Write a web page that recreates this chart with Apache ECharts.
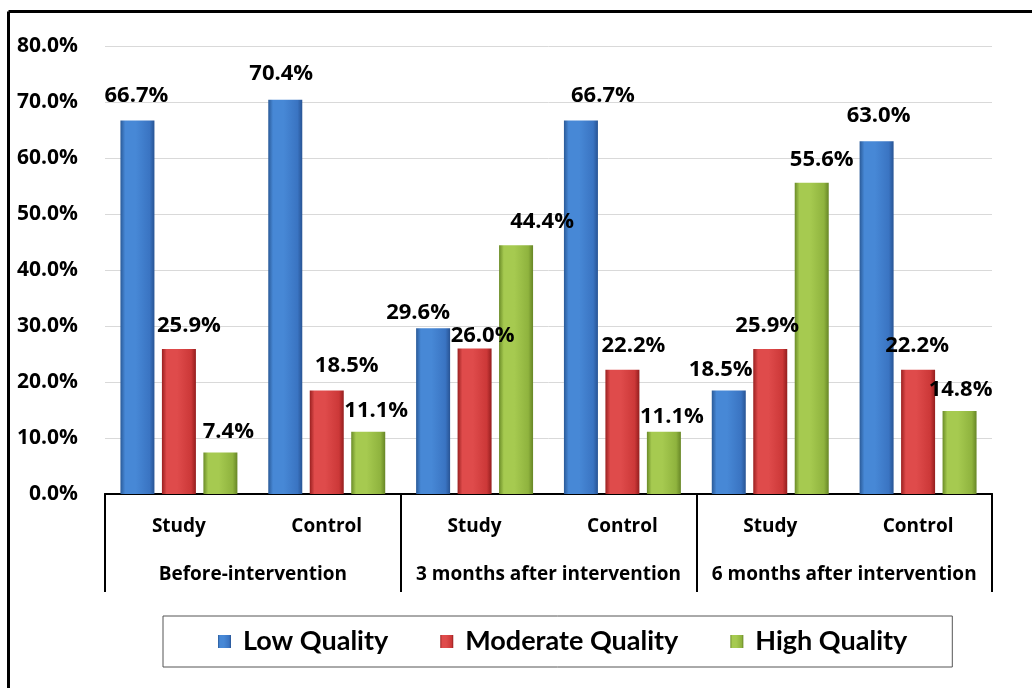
<!DOCTYPE html>
<html>
<head>
<meta charset="utf-8">
<script src="https://cdn.jsdelivr.net/npm/echarts@6/dist/echarts.min.js"></script>
<style>
  html, body { margin: 0; padding: 0; background: #fff; }
  #chart { width: 1032px; height: 688px; }
</style>
</head>
<body>
<div id="chart"></div>
<script>
// ---- data ----
const groups = ['Before-intervention', '3 months after intervention', '6 months after intervention'];
const categories = ['Study', 'Control', 'Study', 'Control', 'Study', 'Control'];
const seriesNames = ['Low Quality', 'Moderate Quality', 'High Quality'];
const lowQuality = [66.7, 70.4, 29.6, 66.7, 18.5, 63.0];
const moderateQuality = [25.9, 18.5, 26.0, 22.2, 25.9, 22.2];
const highQuality = [7.4, 11.1, 44.4, 11.1, 55.6, 14.8];
const yMin = 0, yMax = 80, yStep = 10;

// ---- look ----
const TEXT_FONT = '"Open Sans", "DejaVu Sans", sans-serif';
function barGradient(edge, light, mid, edge2) {
  return {
    type: 'linear', x: 0, y: 0, x2: 1, y2: 0,
    colorStops: [
      { offset: 0, color: edge },
      { offset: 0.14, color: light },
      { offset: 0.45, color: light },
      { offset: 0.86, color: mid },
      { offset: 1, color: edge2 }
    ]
  };
}
const fills = [
  barGradient('#2a5a98', '#4788d6', '#3a74c2', '#285494'),
  barGradient('#9a2020', '#df4b4b', '#cc3838', '#941e1e'),
  barGradient('#6b8c28', '#a6ca50', '#8fb33e', '#678626')
];
// small per-label nudges [dx, dy] so crowded labels sit apart
const labelNudge = [
  [[-1, -4], [-4, -5], [-15, 5], [22, -4], [-8, 0], [2, -4]],
  [[10, -2], [20, -4], [8, 8], [11, -3], [-3, -2], [-1, -3]],
  [[8, 0], [8, 0], [26, -3], [8, 6], [10, -2], [1, 0]]
];
const values = [lowQuality, moderateQuality, highQuality];

const series = seriesNames.map((name, s) => ({
  name,
  type: 'bar',
  barWidth: 34,
  barGap: '22%',
  itemStyle: { color: fills[s] },
  label: {
    show: true,
    position: 'top',
    distance: 10,
    color: '#000',
    fontFamily: TEXT_FONT,
    fontWeight: 'bold',
    fontSize: 22,
    formatter: p => p.value.toFixed(1) + '%'
  },
  data: values[s].map((v, i) => ({
    value: v,
    label: { offset: labelNudge[s][i] }
  }))
}));

const chart = echarts.init(document.getElementById('chart'), null, { renderer: 'canvas' });
chart.setOption({
  backgroundColor: '#fff',
  animation: false,
  grid: { left: 105, right: 40, top: 46, bottom: 194, containLabel: false },
  legend: {
    data: seriesNames,
    left: 163,
    top: 616,
    orient: 'horizontal',
    icon: 'rect',
    itemWidth: 13,
    itemHeight: 13,
    itemGap: 52,
    padding: [12, 45, 12, 55],
    borderColor: '#555',
    borderWidth: 1,
    textStyle: { fontFamily: 'Lato, "Open Sans", sans-serif', fontWeight: 'bold', fontSize: 27, color: '#000', padding: [0, 0, 0, 7] }
  },
  xAxis: [
    {
      type: 'category',
      data: categories,
      position: 'bottom',
      axisLine: { show: true, lineStyle: { color: '#000', width: 2 } },
      axisTick: { show: false },
      axisLabel: {
        margin: 23, color: '#000', fontFamily: TEXT_FONT, fontWeight: 'bold', fontSize: 19, interval: 0
      },
      splitLine: { show: false }
    },
    {
      type: 'category',
      data: groups,
      position: 'bottom',
      offset: 0,
      axisLine: { show: true, lineStyle: { color: '#000', width: 2 } },
      axisTick: { show: true, interval: 0, length: 98, lineStyle: { color: '#000', width: 2 } },
      axisLabel: {
        margin: 71, color: '#000', fontFamily: TEXT_FONT, fontWeight: 'bold', fontSize: 19, interval: 0
      },
      splitLine: { show: false }
    }
  ],
  yAxis: {
    type: 'value',
    min: yMin,
    max: yMax,
    interval: yStep,
    axisLine: { show: false },
    axisTick: { show: false },
    axisLabel: {
      margin: 27, color: '#000', fontFamily: TEXT_FONT, fontWeight: 'bold', fontSize: 21,
      formatter: v => v.toFixed(1) + '%'
    },
    splitLine: { lineStyle: { color: '#d9d9d9', width: 1 } }
  },
  series,
  graphic: [
    { type: 'line', shape: { x1: 8.5, y1: 11.5, x2: 1032, y2: 11.5 }, style: { stroke: '#000', lineWidth: 3 }, z: 100 },
    { type: 'line', shape: { x1: 8.5, y1: 11.5, x2: 8.5, y2: 688 }, style: { stroke: '#000', lineWidth: 3 }, z: 100 }
  ]
});
</script>
</body>
</html>
